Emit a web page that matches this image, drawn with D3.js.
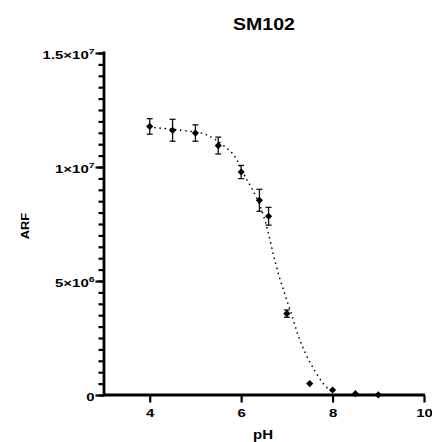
<!DOCTYPE html>
<html>
<head>
<meta charset="utf-8">
<script src="https://cdn.jsdelivr.net/npm/d3@7"></script>
<style>
body { margin: 0; background: #fff; }
text { font-family: "Liberation Sans", Arial, sans-serif; font-weight: bold; fill: #000; }
</style>
</head>
<body>
<script>
// measured points (mean and SD)
var pH = [4, 4.5, 5, 5.5, 6, 6.4, 6.6, 7, 7.5, 8, 8.5, 9];
var arf = [1.178e7, 1.161e7, 1.149e7, 1.094e7, 9.78e6, 8.54e6, 7.84e6, 3.57e6, 5.0e5, 2.2e5, 6e4, 1e4];
var sd = [3.4e5, 4.8e5, 3.6e5, 3.7e5, 2.9e5, 4.8e5, 3.9e5, 1.6e5, 0, 0, 0, 0];

// fitted curve
var fitPH = [4.0, 4.37, 4.81, 5.17, 5.3, 5.61, 5.87, 6.11, 6.25, 6.35, 6.49, 6.59, 6.7, 6.82, 6.96, 7.11, 7.24, 7.41, 7.64, 7.77, 7.94, 8.05];
var fitARF = [1.175e7, 1.168e7, 1.158e7, 1.147e7, 1.136e7, 1.095e7, 1.044e7, 9.49e6, 9.01e6, 8.6e6, 7.85e6, 7.15e6, 6.2e6, 5.28e6, 4.4e6, 3.5e6, 2.65e6, 1.82e6, 9.7e5, 5.7e5, 2.1e5, 6e4];

// ticks
var xTicks = [4, 6, 8, 10];
var yMajor = [0, 5e6, 1e7, 1.5e7];
var yTickBase = ["0", "5×10", "1×10", "1.5×10"];
var yTickExp = ["", "6", "7", "7"];

const width = 432;
const height = 442;

var svg = d3.select("body")
    .append("svg")
    .attr("width", width)
    .attr("height", height);

var x = d3.scaleLinear().domain([3, 10]).range([104, 424]);
var y = d3.scaleLinear().domain([0, 1.5e7]).range([395, 53]);

// minor y ticks
svg.append("g")
    .attr("transform", "translate(104,0)")
    .call(d3.axisLeft(y).tickValues(y.ticks(30)).tickSize(5.5).tickSizeOuter(0).tickFormat(""))
    .call(function(g) { g.select(".domain").remove(); })
    .selectAll("line").attr("stroke", "#000").attr("stroke-width", 2.2);

// major y ticks + labels
var yAxis = svg.append("g")
    .attr("transform", "translate(104,0)")
    .call(d3.axisLeft(y).tickValues(yMajor).tickSize(8.5).tickSizeOuter(0).tickFormat(""));
yAxis.selectAll("line").attr("stroke", "#000").attr("stroke-width", 2.2);
yAxis.select(".domain").remove();
yAxis.selectAll(".tick").each(function(d, i) {
    var t = d3.select(this).append("text")
        .attr("transform", "translate(-9.5,5) scale(1.3,1)")
        .attr("text-anchor", "end")
        .attr("font-size", 11.5);
    t.append("tspan").text(yTickBase[i]);
    if (yTickExp[i]) {
        t.append("tspan").attr("font-size", 8).attr("dy", -4.5).text(yTickExp[i]);
    }
});

// x axis
var xAxis = svg.append("g")
    .attr("transform", "translate(0,395)")
    .call(d3.axisBottom(x).tickValues(xTicks).tickSize(7.5).tickSizeOuter(0).tickFormat(d3.format("d")));
xAxis.select(".domain").remove();
xAxis.selectAll("line").attr("stroke", "#000").attr("stroke-width", 2.2);
xAxis.selectAll("text")
    .attr("y", 0)
    .attr("dy", 0)
    .attr("transform", "translate(0,22) scale(1.3,1)")
    .attr("font-size", 11.5)
    .attr("fill", "#000");

// axis lines
svg.append("line")
    .attr("x1", 104).attr("x2", 104)
    .attr("y1", y(1.5e7) - 1.5).attr("y2", y(0) + 1.3)
    .attr("stroke", "#000").attr("stroke-width", 2.8);
svg.append("line")
    .attr("x1", 104).attr("x2", x(10) + 1)
    .attr("y1", y(0)).attr("y2", y(0))
    .attr("stroke", "#000").attr("stroke-width", 2.8);

// fit curve
var line = d3.line()
    .x(function(d, i) { return x(fitPH[i]); })
    .y(function(d, i) { return y(fitARF[i]); })
    .curve(d3.curveMonotoneX);

svg.append("path")
    .attr("d", line(fitPH))
    .attr("fill", "none")
    .attr("stroke", "#000")
    .attr("stroke-width", 1.7)
    .attr("stroke-linecap", "round")
    .attr("stroke-dasharray", "0.01 5.2");

// error bars
var bars = svg.append("g").selectAll("g")
    .data(pH.map(function(p, i) { return {p: p, v: arf[i], s: sd[i]}; }).filter(function(d) { return d.s > 0; }))
    .enter()
    .append("g")
    .attr("stroke", "#111")
    .attr("stroke-width", 1.3);

bars.append("line")
    .attr("x1", function(d) { return x(d.p); })
    .attr("x2", function(d) { return x(d.p); })
    .attr("y1", function(d) { return y(d.v + d.s); })
    .attr("y2", function(d) { return y(d.v - d.s); });
bars.append("line")
    .attr("x1", function(d) { return x(d.p) - 3; })
    .attr("x2", function(d) { return x(d.p) + 3; })
    .attr("y1", function(d) { return y(d.v + d.s); })
    .attr("y2", function(d) { return y(d.v + d.s); });
bars.append("line")
    .attr("x1", function(d) { return x(d.p) - 3; })
    .attr("x2", function(d) { return x(d.p) + 3; })
    .attr("y1", function(d) { return y(d.v - d.s); })
    .attr("y2", function(d) { return y(d.v - d.s); });

// diamond markers
var diamond = d3.symbol().type(d3.symbolSquare).size(26);
svg.append("g").selectAll("path")
    .data(pH)
    .enter()
    .append("path")
    .attr("d", diamond)
    .attr("transform", function(d, i) { return "translate(" + x(d) + "," + y(arf[i]) + ") rotate(45)"; })
    .attr("fill", "#000");

// titles
svg.append("text")
    .attr("transform", "translate(264,30) scale(1.22,1)")
    .attr("text-anchor", "middle")
    .attr("font-size", 16)
    .text("SM102");

svg.append("text")
    .attr("transform", "translate(263,439) scale(1.2,1)")
    .attr("text-anchor", "middle")
    .attr("font-size", 12.5)
    .text("pH");

svg.append("text")
    .attr("transform", "translate(28.5,226) rotate(-90) scale(1.12,1)")
    .attr("text-anchor", "middle")
    .attr("font-size", 11.5)
    .text("ARF");
</script>
</body>
</html>
